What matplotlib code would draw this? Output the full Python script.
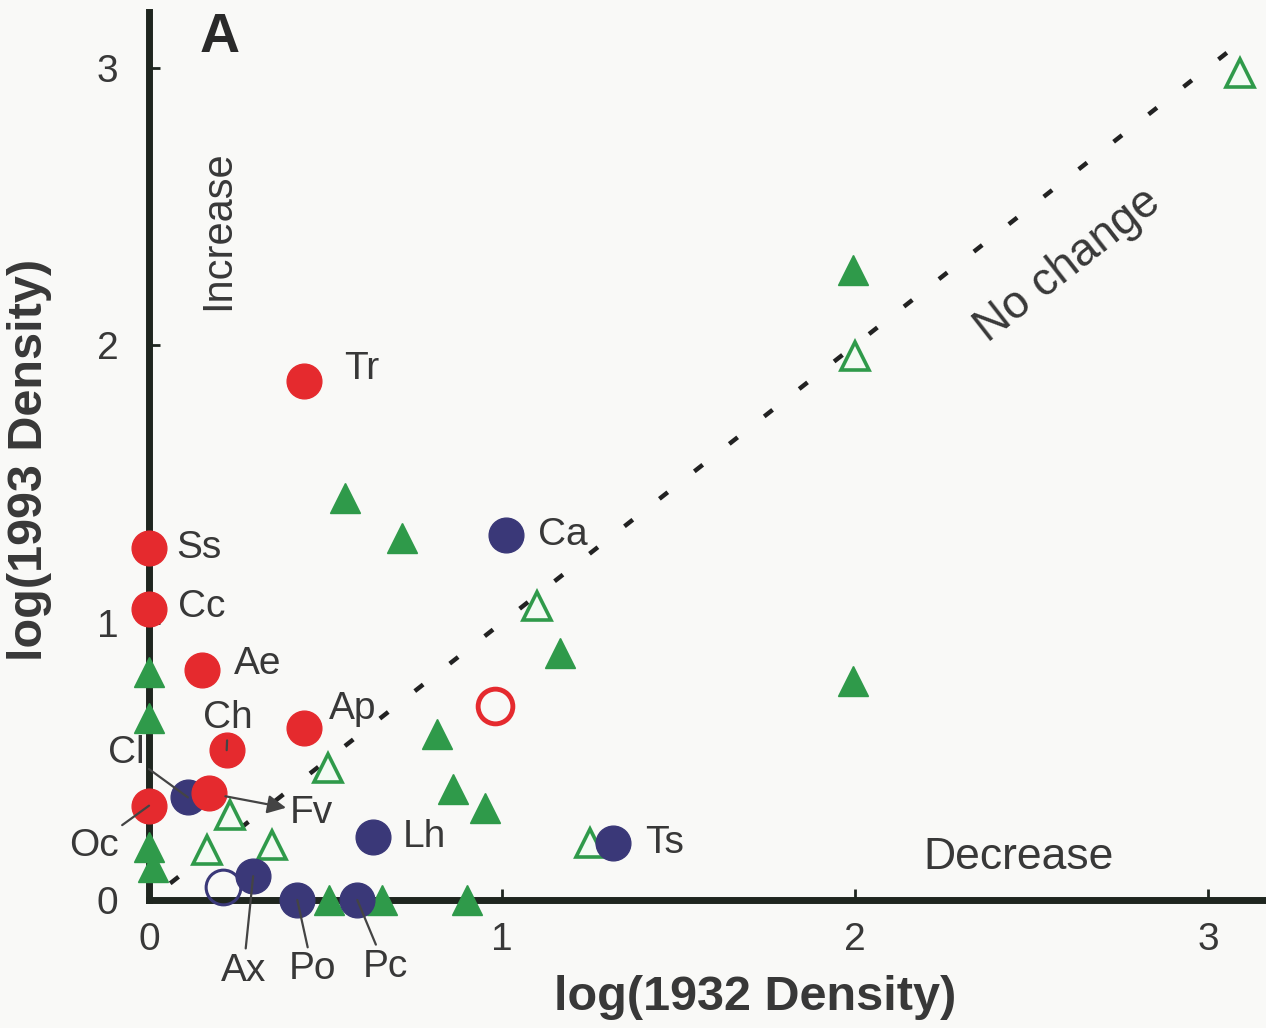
import numpy as np
import matplotlib
matplotlib.use("Agg")
import matplotlib.pyplot as plt

plt.rcParams['font.family'] = ['Liberation Sans', 'DejaVu Sans']

# species that increased (red) - log densities 1932 / 1993
red_names = ['Tr', 'Ss', 'Cc', 'Ae', 'Ch', 'Ap', 'Fv', 'Oc']
red_x = [0.44, 0.00, 0.00, 0.15, 0.22, 0.44, 0.17, 0.00]
red_y = [1.87, 1.27, 1.05, 0.83, 0.54, 0.62, 0.385, 0.34]

# species that decreased (blue)
blue_names = ['Ca', 'Lh', 'Ts', 'Cl', 'Ax', 'Po', 'Pc']
blue_x = [1.01, 0.635, 1.314, 0.11, 0.295, 0.42, 0.59]
blue_y = [1.315, 0.227, 0.205, 0.37, 0.086, 0.0, 0.0]

# open circles
red_open_x = [0.98]
red_open_y = [0.70]
blue_open_x = [0.21]
blue_open_y = [0.047]

# green triangles (filled and open)
green_x = [1.994, 0.555, 0.717, 1.164, 1.994, 0.816, 0.861, 0.952,
           0.0, 0.0, 0.0, 0.01, 0.90, 0.51, 0.66]
green_y = [2.27, 1.45, 1.305, 0.89, 0.79, 0.60, 0.40, 0.33,
           0.82, 0.655, 0.19, 0.12, 0.0, 0.0, 0.0]
green_open_x = [3.09, 2.0, 1.10, 0.507, 0.23, 0.164, 0.348, 1.25]
green_open_y = [2.98, 1.96, 1.06, 0.476, 0.306, 0.18, 0.198, 0.205]

diag = [0.06, 3.12]
ticks = [0, 1, 2, 3]

RED = '#e52a2e'
BLUE = '#3a3878'
GREEN = '#2f9a4a'
TXT = '#383838'
AXC = '#1f261f'

fig = plt.figure(figsize=(12.66, 10.28), dpi=100, facecolor='#f9f9f7')
ax = fig.add_axes([0.1177, 0.1245, 0.8823, 0.8638])
ax.set_facecolor('none')
ax.set_xlim(0, 3.164)
ax.set_ylim(0, 3.2)

for s in ['top', 'right']:
    ax.spines[s].set_visible(False)
for s in ['left', 'bottom']:
    ax.spines[s].set_linewidth(5)
    ax.spines[s].set_color(AXC)

ax.set_xticks(ticks)
ax.set_yticks(ticks)
ax.tick_params(direction='in', length=8, width=2, color=AXC, labelsize=28, labelcolor=TXT)
ax.tick_params(axis='x', pad=16)
ax.tick_params(axis='y', pad=22)

# no change line
ax.plot(diag, diag, color='#222222', lw=3.2, linestyle=(0, (2.4, 7.6)), dash_capstyle='butt', zorder=2)

# markers
ax.plot(green_x, green_y, '^', ms=21, color=GREEN, mec=GREEN, clip_on=False, zorder=3)
ax.plot(green_open_x, green_open_y, '^', ms=20, mfc='#f4fbf4', mec=GREEN, mew=2.6, clip_on=False, zorder=3)
ax.plot(blue_x, blue_y, 'o', ms=25, color=BLUE, clip_on=False, zorder=4)
ax.plot(blue_open_x, blue_open_y, 'o', ms=25, mfc='none', mec=BLUE, mew=2.2, clip_on=False, zorder=4)
ax.plot(red_x, red_y, 'o', ms=25, color=RED, clip_on=False, zorder=5)
ax.plot(red_open_x, red_open_y, 'o', ms=25, mfc='none', mec=RED, mew=3.5, clip_on=False, zorder=5)

# label offsets (points) and leader line styles
offsets = {
    'Tr': (41, 9), 'Ss': (36, 0), 'Cc': (38, 1), 'Ae': (40, 4), 'Ch': (1, 23),
    'Ap': (35, 14), 'Fv': (74, -14), 'Oc': (-40, -29),
    'Ca': (41, 0), 'Lh': (37, 0), 'Ts': (37, 0), 'Cl': (-44, 32),
    'Ax': (-7, -68), 'Po': (11, -50), 'Pc': (20, -48),
}
leaders = {'Ch': '-', 'Oc': '-', 'Cl': '-', 'Ax': '-', 'Po': '-', 'Pc': '-', 'Fv': '<|-'}

names = red_names + blue_names
xs = red_x + blue_x
ys = red_y + blue_y
for name, x, y in zip(names, xs, ys):
    arrow = None
    if name in leaders:
        arrow = dict(arrowstyle=leaders[name], color='#444444', lw=1.6,
                     shrinkA=1, shrinkB=12 if name == 'Fv' else 0)
    ax.annotate(name, xy=(x, y), xytext=offsets[name], textcoords='offset points',
                ha='center', va='center', fontsize=28, color=TXT,
                arrowprops=arrow, annotation_clip=False, zorder=7)

ax.text(0.195, 2.414, 'Increase', rotation=90, ha='center', va='center', fontsize=30, color=TXT)
ax.text(2.603, 2.288, 'No change', rotation=38, ha='center', va='center', fontsize=33, color=TXT,
        rotation_mode='anchor')
ax.text(2.462, 0.155, 'Decrease', ha='center', va='center', fontsize=32, color=TXT)
ax.text(0.201, 3.106, 'A', ha='center', va='center', fontsize=40, fontweight='bold', color='#2a2a2a',
        clip_on=False)

# axis titles placed in figure pixels
fig.text(755 / 1266, 1 - 998 / 1028, 'log(1932 Density)', ha='center', va='center',
         fontsize=35, fontweight='bold', color=TXT)
fig.text(30 / 1266, 1 - 460 / 1028, 'log(1993 Density)', ha='center', va='center', rotation=90,
         fontsize=35, fontweight='bold', color=TXT)

fig.savefig('out.png', dpi=100, facecolor=fig.get_facecolor())
